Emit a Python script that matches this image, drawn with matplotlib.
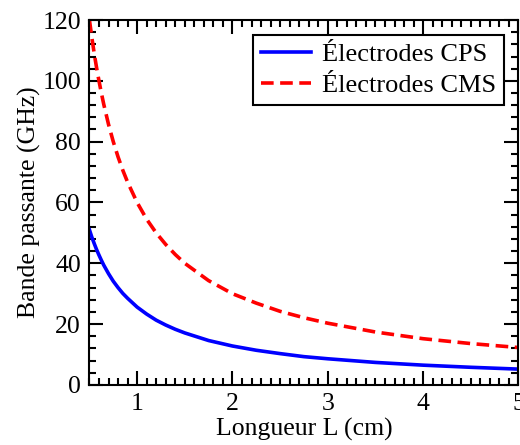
import matplotlib
matplotlib.use('Agg')
import matplotlib.pyplot as plt
from matplotlib.ticker import MultipleLocator

plt.rcParams['font.family'] = ['Liberation Serif', 'DejaVu Serif']

# valeurs
L = [0.5, 0.525, 0.55, 0.575, 0.6, 0.625, 0.65, 0.7, 0.75, 0.8, 0.85, 0.9, 1.0, 1.1, 1.2, 1.3, 1.4,
     1.5, 1.75, 2.0, 2.25, 2.5, 2.75, 3.0, 3.5, 4.0, 4.5, 5.0]
bp_cps = [51, 48.6, 46.5, 44.5, 42.7, 41.0, 39.4, 36.6, 34.1, 32.0, 30.1, 28.5, 25.6, 23.3, 21.3,
          19.7, 18.3, 17.1, 14.6, 12.8, 11.4, 10.3, 9.3, 8.6, 7.4, 6.5, 5.8, 5.2]
bp_cms = [120, 114.3, 109, 104.3, 100, 96.0, 92.3, 85.7, 80.0, 75.0, 70.6, 66.7, 60.0, 54.5, 50.0,
          46.2, 42.9, 40.0, 34.3, 30.0, 26.9, 24.2, 22.1, 20.3, 17.4, 15.2, 13.6, 12.3]

fig = plt.figure(figsize=(5.2, 4.45), dpi=100)
ax = fig.add_axes([0.172, 0.135, 0.825, 0.82])

ax.plot(L, bp_cps, color='blue', lw=2.6, label='Électrodes CPS')
ax.plot(L, bp_cms, color='red', lw=2.6, ls=(0, (3.5, 1.8)), label='Électrodes CMS')

ax.set_xlim(0.5, 5)
ax.set_ylim(0, 120)
ax.xaxis.set_major_locator(MultipleLocator(1))
ax.xaxis.set_minor_locator(MultipleLocator(0.1))
ax.yaxis.set_major_locator(MultipleLocator(20))
ax.yaxis.set_minor_locator(MultipleLocator(4))
ax.tick_params(which='both', direction='in', top=True, right=True, labelsize=18.5, width=1.5)
ax.tick_params(which='major', length=10, pad=6)
ax.tick_params(which='minor', length=5)
for s in ax.spines.values():
    s.set_linewidth(1.5)

ax.set_xlabel('Longueur L (cm)', fontsize=18.5, labelpad=2)
ax.set_ylabel('Bande passante (GHz)', fontsize=18.5, labelpad=1)

leg = ax.legend(loc='upper right', fontsize=19, fancybox=False, framealpha=1,
                edgecolor='black', handlelength=1.9, borderpad=0.3,
                labelspacing=0.3, handletextpad=0.4, borderaxespad=0.55)
leg.get_frame().set_linewidth(1.5)

fig.savefig('out.png', dpi=100)
